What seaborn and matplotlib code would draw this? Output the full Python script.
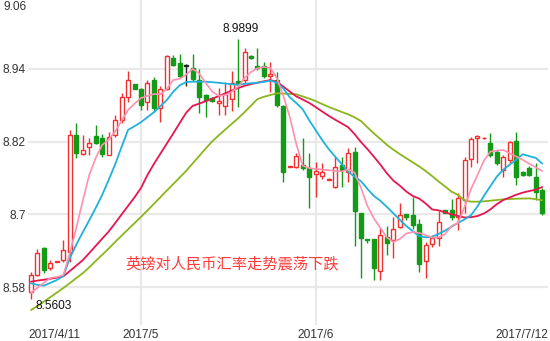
import numpy as np
import pandas as pd
import matplotlib
matplotlib.use("Agg")
import matplotlib.pyplot as plt
import seaborn as sns

# ---------------- data (GBP/CNY daily K-line, 2017/4/11 - 2017/7/12) ----------------
open_ = [8.5717, 8.5998, 8.6444, 8.6114, 8.6221, 8.6246, 8.6378, 8.8310, 8.7996, 8.8112,
         8.8294, 8.8261, 8.7980, 8.8310, 8.8558, 8.8937, 8.9152, 8.9069, 8.8855, 8.9218,
         8.8756, 8.9069, 8.9581, 8.9499, 8.9449, 8.9416, 8.9218, 8.8970, 8.8921, 8.8838,
         8.8789, 8.8904, 8.9202, 8.9218, 8.9614, 8.9449, 8.9449, 8.9284, 8.9218, 8.8789,
         8.7782, 8.7782, 8.7815, 8.7765, 8.7660, 8.7633, 8.7575, 8.7451, 8.7815, 8.7699,
         8.8029, 8.7022, 8.6593, 8.6593, 8.6064, 8.6626, 8.6576, 8.6791, 8.7006, 8.6989,
         8.6840, 8.6229, 8.6510, 8.6609, 8.7072, 8.7072, 8.6956, 8.7237, 8.7914, 8.8260,
         8.8255, 8.8178, 8.8029, 8.7732, 8.7897, 8.8211, 8.7699, 8.7765, 8.7616, 8.7402]
close = [8.5998, 8.6361, 8.6081, 8.6196, 8.6229, 8.6411, 8.8310, 8.8013, 8.8062, 8.8178,
         8.8178, 8.7996, 8.8277, 8.8558, 8.8937, 8.9218, 8.9069, 8.8805, 8.9169, 8.8756,
         8.9069, 8.9614, 8.9466, 8.9284, 8.9449, 8.9235, 8.8937, 8.8888, 8.8871, 8.8871,
         8.8987, 8.9169, 8.9152, 8.9681, 8.9581, 8.9416, 8.9284, 8.9317, 8.8805, 8.7699,
         8.7790, 8.7963, 8.7765, 8.7616, 8.7720, 8.7699, 8.7591, 8.7782, 8.7732, 8.8013,
         8.7055, 8.6609, 8.6576, 8.6114, 8.6659, 8.6527, 8.6758, 8.6989, 8.6956, 8.6824,
         8.6180, 8.6494, 8.6609, 8.6873, 8.7022, 8.6956, 8.7270, 8.7897, 8.8244, 8.8294,
         8.8265, 8.7980, 8.7848, 8.7947, 8.8195, 8.7616, 8.7649, 8.7649, 8.7369, 8.7022]
high = [8.6048, 8.6428, 8.6460, 8.6246, 8.6235, 8.6576, 8.8393, 8.8508, 8.8310, 8.8261,
        8.8475, 8.8327, 8.8360, 8.8640, 8.9003, 8.9367, 8.9152, 8.9086, 8.9218, 8.9268,
        8.9119, 8.9631, 8.9631, 8.9648, 8.9482, 8.9648, 8.9400, 8.8987, 8.8930, 8.9086,
        8.9185, 8.9367, 8.9899, 8.9747, 8.9631, 8.9747, 8.9515, 8.9515, 8.9350, 8.8805,
        8.7795, 8.8013, 8.8261, 8.8013, 8.7860, 8.7848, 8.7600, 8.7963, 8.7947, 8.8095,
        8.8112, 8.7022, 8.6593, 8.6593, 8.6791, 8.6807, 8.6956, 8.7187, 8.7006, 8.7286,
        8.6923, 8.6550, 8.6659, 8.7055, 8.7072, 8.7253, 8.7352, 8.7947, 8.8277, 8.8310,
        8.8270, 8.8343, 8.8062, 8.7980, 8.8211, 8.8360, 8.7710, 8.7800, 8.7848, 8.7435]
low = [8.5603, 8.5981, 8.6031, 8.6081, 8.6215, 8.6213, 8.6213, 8.7930, 8.7980, 8.7980,
       8.8161, 8.7947, 8.7980, 8.8277, 8.8508, 8.8855, 8.9069, 8.8723, 8.8723, 8.8690,
       8.8525, 8.9053, 8.9449, 8.9251, 8.9119, 8.9202, 8.8673, 8.8607, 8.8860, 8.8640,
       8.8640, 8.8706, 8.8772, 8.9169, 8.9565, 8.9383, 8.9251, 8.9020, 8.8772, 8.7534,
       8.7778, 8.7765, 8.7732, 8.7105, 8.7286, 8.7583, 8.7570, 8.7435, 8.7451, 8.7534,
       8.6477, 8.5949, 8.6527, 8.5916, 8.5916, 8.6328, 8.6279, 8.6774, 8.6906, 8.6758,
       8.6048, 8.5949, 8.6461, 8.6477, 8.7022, 8.6906, 8.6741, 8.7022, 8.7782, 8.7848,
       8.8250, 8.7947, 8.7815, 8.7616, 8.7848, 8.7484, 8.7630, 8.7630, 8.7237, 8.6989]

ma5 = [8.5701, 8.5789, 8.5871, 8.5949, 8.5965, 8.5998, 8.6361, 8.6774, 8.7223, 8.7649,
       8.7930, 8.8145, 8.8232, 8.8368, 8.8546, 8.8723, 8.8827, 8.8921, 8.8954, 8.8987,
       8.8982, 8.9070, 8.9218, 8.9238, 8.9309, 8.9400, 8.9326, 8.9169, 8.9028, 8.8957,
       8.8970, 8.9020, 8.9103, 8.9251, 8.9350, 8.9413, 8.9433, 8.9416, 8.9251, 8.8954,
       8.8607, 8.8161, 8.7803, 8.7763, 8.7750, 8.7739, 8.7729, 8.7717, 8.7707, 8.7744,
       8.7691, 8.7435, 8.7138, 8.6931, 8.6774, 8.6617, 8.6543, 8.6593, 8.6683, 8.6708,
       8.6692, 8.6659, 8.6616, 8.6621, 8.6675, 8.6807, 8.6862, 8.7121, 8.7418, 8.7649,
       8.7886, 8.8037, 8.8051, 8.8062, 8.8008, 8.7955, 8.7900, 8.7836, 8.7777, 8.7715]
ma10 = [8.5861, 8.5836, 8.5823, 8.5869, 8.5916, 8.5982, 8.6274, 8.6500, 8.6703, 8.6901,
        8.7105, 8.7319, 8.7567, 8.7824, 8.8112, 8.8394, 8.8455, 8.8521, 8.8604, 8.8686,
        8.8787, 8.8888, 8.9027, 8.9131, 8.9185, 8.9190, 8.9190, 8.9190, 8.9182, 8.9172,
        8.9160, 8.9149, 8.9139, 8.9154, 8.9165, 8.9172, 8.9187, 8.9208, 8.9174, 8.9078,
        8.8932, 8.8838, 8.8734, 8.8553, 8.8389, 8.8227, 8.8079, 8.7955, 8.7831, 8.7704,
        8.7623, 8.7547, 8.7420, 8.7303, 8.7223, 8.7123, 8.7017, 8.6910, 8.6807, 8.6721,
        8.6641, 8.6621, 8.6629, 8.6678, 8.6731, 8.6797, 8.6858, 8.6916, 8.6986, 8.7131,
        8.7306, 8.7466, 8.7625, 8.7737, 8.7823, 8.7904, 8.7993, 8.7960, 8.7933, 8.7838]
ma20 = [8.5888, 8.5906, 8.5921, 8.5937, 8.5955, 8.5975, 8.6064, 8.6153, 8.6243, 8.6360,
        8.6479, 8.6598, 8.6715, 8.6854, 8.6997, 8.7139, 8.7281, 8.7435, 8.7649, 8.7833,
        8.8001, 8.8170, 8.8338, 8.8510, 8.8680, 8.8792, 8.8828, 8.8868, 8.8909, 8.8952,
        8.8997, 8.9042, 8.9083, 8.9122, 8.9150, 8.9174, 8.9197, 8.9217, 8.9188, 8.9109,
        8.9028, 8.8947, 8.8895, 8.8840, 8.8771, 8.8698, 8.8627, 8.8563, 8.8502, 8.8440,
        8.8326, 8.8193, 8.8077, 8.7950, 8.7820, 8.7678, 8.7557, 8.7474, 8.7377, 8.7304,
        8.7260, 8.7179, 8.7081, 8.7065, 8.7034, 8.6999, 8.6974, 8.6948, 8.6953, 8.6972,
        8.7015, 8.7081, 8.7169, 8.7237, 8.7280, 8.7324, 8.7359, 8.7384, 8.7407, 8.7451]
ma30 = [8.5420, 8.5486, 8.5559, 8.5633, 8.5708, 8.5783, 8.5864, 8.5947, 8.6028, 8.6125,
        8.6229, 8.6332, 8.6434, 8.6543, 8.6647, 8.6751, 8.6854, 8.6958, 8.7065, 8.7174,
        8.7283, 8.7394, 8.7501, 8.7610, 8.7720, 8.7843, 8.7965, 8.8087, 8.8204, 8.8303,
        8.8397, 8.8492, 8.8584, 8.8686, 8.8795, 8.8903, 8.8941, 8.8970, 8.8999, 8.8994,
        8.8989, 8.8982, 8.8947, 8.8911, 8.8870, 8.8822, 8.8774, 8.8733, 8.8691, 8.8652,
        8.8602, 8.8541, 8.8436, 8.8336, 8.8242, 8.8148, 8.8067, 8.7995, 8.7927, 8.7859,
        8.7791, 8.7715, 8.7631, 8.7542, 8.7460, 8.7374, 8.7321, 8.7233, 8.7209, 8.7209,
        8.7215, 8.7225, 8.7237, 8.7248, 8.7253, 8.7258, 8.7261, 8.7263, 8.7252, 8.7232]

y_ticks = [8.58, 8.7, 8.82, 8.94]
y_tick_labels = ["8.58", "8.7", "8.82", "8.94"]
top_label = "9.06"
x_tick_labels = ["2017/4/11", "2017/5", "2017/6", "2017/7/12"]
month_start_idx = [17, 44]
max_idx, min_idx = 32, 0
title_text = "英镑对人民币汇率走势震荡下跌"

# ---------------- style ----------------
sns.set_theme(style="white")
plt.rcParams["font.family"] = ["Liberation Sans", "DejaVu Sans"]

RED = "#f2312f"
GREEN = "#139a16"
DOJI = "#222222"
GRID = "#e9e9e9"
TXT = "#333333"

fig = plt.figure(figsize=(5.5, 3.41), dpi=100)
ax = fig.add_axes([28 / 550, 16 / 341, 520 / 550, 325 / 341])

n = len(open_)
x = np.arange(n)
o = np.array(open_); c = np.array(close); h = np.array(high); l = np.array(low)

ax.set_xlim(-0.46, 79.9)
ax.set_ylim(8.5173, 9.0539)

# grid
for yv in y_ticks:
    ax.axhline(yv, color=GRID, lw=1.6, zorder=0)
for xi in month_start_idx:
    ax.axvline(xi, color=GRID, lw=1.6, zorder=0)

# candles
up = c > o
doji = c == o
col = np.where(doji, DOJI, np.where(up, RED, GREEN))
ax.vlines(x, l, h, colors=col, lw=1.0, zorder=2)
bottom = np.minimum(o, c)
height = np.maximum(np.abs(c - o), 0.0012)
face = np.where(doji, DOJI, np.where(up, "white", GREEN))
ax.bar(x, height, bottom=bottom, width=0.62, color=face, edgecolor=col,
       linewidth=1.0, zorder=3)

# moving averages
df = pd.DataFrame({"x": x, "ma5": ma5, "ma10": ma10, "ma20": ma20, "ma30": ma30})
for name, colr, lw in [("ma30", "#8cb51c", 1.3), ("ma20", "#e8154f", 1.3),
                       ("ma10", "#1eb2dc", 1.3), ("ma5", "#ff90ae", 1.2)]:
    sns.lineplot(data=df, x="x", y=name, color=colr, lw=lw, ax=ax, zorder=4)

# axes cosmetics
for s in ax.spines.values():
    s.set_visible(False)
ax.set_xlabel(""); ax.set_ylabel("")
ax.set_yticks(y_ticks)
ax.set_yticklabels(y_tick_labels)
xl = ax.get_xlim()
ax.set_xticks([xl[0] + 0.01, month_start_idx[0], month_start_idx[1], xl[1] - 0.01])
ax.set_xticklabels(x_tick_labels)
tl = ax.get_xticklabels()
tl[0].set_ha("left"); tl[-1].set_ha("right")
ax.tick_params(axis="both", length=0, labelsize=8.6, colors=TXT)
ax.tick_params(axis="y", pad=1.5)
ax.tick_params(axis="x", pad=3)
ax.grid(False)
ax.text(-1.5 / 520, 0.996, top_label, transform=ax.transAxes, ha="right", va="top",
        fontsize=8.6, color=TXT)

# max / min annotations
ax.annotate(f"{high[max_idx]:.4f}", xy=(max_idx, high[max_idx]), xytext=(2, 3),
            textcoords="offset points", ha="center", va="bottom", fontsize=8.6,
            color="#111111", zorder=6)
ax.annotate(f"{low[min_idx]:.4f}", xy=(min_idx, low[min_idx]), xytext=(3, -1),
            textcoords="offset points", ha="left", va="top", fontsize=8.6,
            color="#111111", zorder=6)

ax.text(0.188, 0.188, title_text, transform=ax.transAxes, ha="left", va="center",
        fontsize=11, color="#ff3b3b", family=["Noto Sans CJK SC", "DejaVu Sans"], zorder=6)

fig.savefig("out.png", dpi=100)
